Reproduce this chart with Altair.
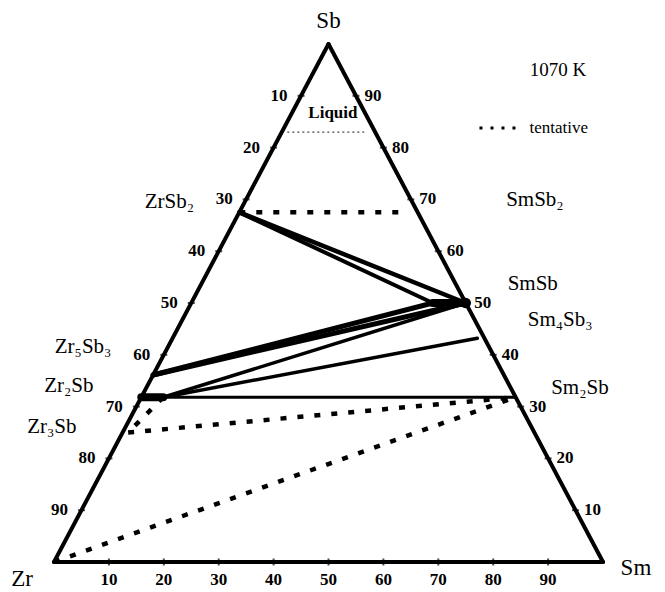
import altair as alt
import pandas as pd

# ---- data (atomic fractions of Sm and Sb) ----
phase_names = ["Zr", "Sm", "Sb", "ZrSb2", "SmSb2", "SmSb", "SmSb_ss", "Sm4Sb3",
               "Sm2Sb", "Zr5Sb3", "Zr2Sb", "Zr2Sb_ss", "Zr3Sb", "LiqL", "LiqR"]
phase_sm = [0.0, 1.0, 0.0, 0.0, 0.30, 0.50, 0.44, 0.555,
            0.681, 0.0, 0.0, 0.04, 0.01, 0.01, 0.15]
phase_sb = [0.0, 0.0, 1.0, 0.675, 0.675, 0.50, 0.50, 0.432,
            0.318, 0.361, 0.318, 0.318, 0.25, 0.83, 0.83]

edge_from = ["Zr", "Sm", "Sb"]
edge_to = ["Sm", "Sb", "Zr"]

tie_from = ["ZrSb2", "ZrSb2", "Zr5Sb3", "Zr5Sb3", "Zr2Sb_ss", "Zr2Sb_ss", "Zr2Sb"]
tie_to = ["SmSb", "SmSb_ss", "SmSb", "SmSb_ss", "SmSb", "Sm4Sb3", "Sm2Sb"]
tie_width = [4.5, 4, 5, 5, 3.5, 3.5, 3]

blob_from = ["SmSb_ss", "Zr2Sb"]
blob_to = ["SmSb", "Zr2Sb_ss"]

tent_from = ["ZrSb2", "Zr3Sb", "Zr", "Zr2Sb_ss"]
tent_to = ["SmSb2", "Sm2Sb", "Sm2Sb", "Zr3Sb"]

liquid_from = ["LiqL"]
liquid_to = ["LiqR"]

phase_labels = ["ZrSb₂", "SmSb₂", "SmSb", "Sm₄Sb₃", "Sm₂Sb", "Zr₅Sb₃", "Zr₂Sb", "Zr₃Sb"]
label_x = [0.210, 0.876, 0.872, 0.922, 0.958, 0.053, 0.027, -0.004]
label_y = [0.695, 0.699, 0.537, 0.467, 0.336, 0.415, 0.340, 0.261]

tick_values = [10, 20, 30, 40, 50, 60, 70, 80, 90]

corner_labels = ["Zr", "Sm", "Sb"]
corner_x = [-0.058, 1.06, 0.5]
corner_y = [-0.032, -0.012, 1.044]

note_texts = ["1070 K", "Liquid", "tentative"]
note_x = [0.918, 0.508, 0.866]
note_y = [0.950, 0.867, 0.838]
note_align = ["center", "center", "left"]
note_size = [19, 17, 17]
legend_x = [0.775, 0.845]
legend_y = 0.838

# ---- helpers ----
pos = {n: (s + b / 2.0, b) for n, s, b in zip(phase_names, phase_sm, phase_sb)}


def segs(a, b, w=None):
    rows = []
    for i, (p, q) in enumerate(zip(a, b)):
        r = {"x": pos[p][0], "y": pos[p][1], "x2": pos[q][0], "y2": pos[q][1]}
        if w is not None:
            r["w"] = w[i]
        rows.append(r)
    return pd.DataFrame(rows)


W, H = 549, 518
xs = alt.Scale(domain=[0, 1], nice=False, zero=False)
ys = alt.Scale(domain=[0, 1], nice=False, zero=False)
X = lambda f="x": alt.X(f"{f}:Q", scale=xs, axis=None)
Y = lambda f="y": alt.Y(f"{f}:Q", scale=ys, axis=None)
FONT = "Liberation Serif"

edges = alt.Chart(segs(edge_from, edge_to)).mark_rule(
    color="black", strokeWidth=4, strokeCap="round").encode(
    x=X(), y=Y(), x2="x2:Q", y2="y2:Q")

ties = alt.Chart(segs(tie_from, tie_to, tie_width)).mark_rule(
    color="black", strokeCap="round").encode(
    x=X(), y=Y(), x2="x2:Q", y2="y2:Q",
    strokeWidth=alt.StrokeWidth("w:Q", scale=None))

blobs = alt.Chart(segs(blob_from, blob_to)).mark_rule(
    color="black", strokeWidth=8, strokeCap="round").encode(
    x=X(), y=Y(), x2="x2:Q", y2="y2:Q")

smsb_dot = alt.Chart(pd.DataFrame({"x": [pos["SmSb"][0]], "y": [pos["SmSb"][1]]})).mark_point(
    filled=True, color="black", size=110, opacity=1).encode(x=X(), y=Y())

tent = alt.Chart(segs(tent_from, tent_to)).mark_rule(
    color="black", strokeWidth=4.5, strokeDash=[6, 11]).encode(
    x=X(), y=Y(), x2="x2:Q", y2="y2:Q")

liquid = alt.Chart(segs(liquid_from, liquid_to)).mark_rule(
    color="#444", strokeWidth=1.3, strokeDash=[2, 3]).encode(
    x=X(), y=Y(), x2="x2:Q", y2="y2:Q")

legend_line = alt.Chart(pd.DataFrame({"x": [legend_x[0]], "x2": [legend_x[1]],
                                      "y": [legend_y]})).mark_rule(
    color="black", strokeWidth=3, strokeDash=[3, 8]).encode(x=X(), x2="x2:Q", y=Y())

# tick marks and tick labels
v = [t / 100.0 for t in tick_values]
left_df = pd.DataFrame({"x": [(1 - f) / 2 for f in v], "y": [1 - f for f in v],
                        "t": [str(t) for t in tick_values]})
right_df = pd.DataFrame({"x": [1 - f / 2 for f in v], "y": v,
                         "t": [str(t) for t in tick_values]})
bottom_df = pd.DataFrame({"x": v, "y": [0.0] * len(v), "t": [str(t) for t in tick_values]})

tick_marks = (
    alt.Chart(left_df).mark_tick(orient="horizontal", size=7, thickness=2, color="black").encode(x=X(), y=Y())
    + alt.Chart(right_df).mark_tick(orient="horizontal", size=7, thickness=2, color="black").encode(x=X(), y=Y())
    + alt.Chart(bottom_df).mark_tick(orient="vertical", size=7, thickness=2, color="black").encode(x=X(), y=Y())
)

num_style = dict(font=FONT, fontSize=17, fontWeight="bold", color="black", baseline="middle")
left_lab = alt.Chart(left_df).mark_text(align="center", dx=-22, **num_style).encode(
    x=X(), y=Y(), text="t:N")
right_lab = alt.Chart(right_df).mark_text(align="center", dx=17, **num_style).encode(
    x=X(), y=Y(), text="t:N")
bottom_lab = alt.Chart(bottom_df).mark_text(align="center", dy=18, **num_style).encode(
    x=X(), y=Y(), text="t:N")

phase_df = pd.DataFrame({"x": label_x, "y": label_y, "t": phase_labels})
phase_txt = alt.Chart(phase_df).mark_text(
    font=FONT, fontSize=21, color="black", align="center", baseline="middle").encode(
    x=X(), y=Y(), text="t:N")

corner_df = pd.DataFrame({"x": corner_x, "y": corner_y, "t": corner_labels})
corner_txt = alt.Chart(corner_df).mark_text(
    font=FONT, fontSize=23, color="black", align="center", baseline="middle").encode(
    x=X(), y=Y(), text="t:N")

note_df = pd.DataFrame({"x": note_x, "y": note_y, "t": note_texts})
notes = []
for i in range(len(note_texts)):
    sub = note_df.iloc[[i]]
    weight = "bold" if note_texts[i] == "Liquid" else "normal"
    notes.append(alt.Chart(sub).mark_text(
        font=FONT, fontSize=note_size[i], fontWeight=weight, color="black",
        align=note_align[i], baseline="middle").encode(x=X(), y=Y(), text="t:N"))

chart = alt.layer(
    liquid, tent, ties, blobs, edges, smsb_dot, tick_marks, legend_line,
    left_lab, right_lab, bottom_lab, phase_txt, corner_txt, *notes
).properties(
    width=W, height=H,
    autosize=alt.AutoSizeParams(type="none"),
    padding={"left": 46, "top": 36, "right": 54, "bottom": 30},
).configure_view(stroke=None)

chart.save("out.html", embed_options={"renderer": "svg", "actions": False})
